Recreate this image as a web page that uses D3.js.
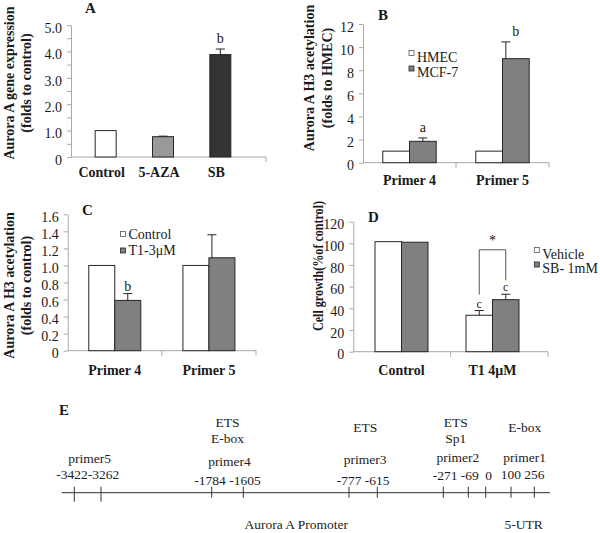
<!DOCTYPE html>
<html><head><meta charset="utf-8">
<script src="https://cdn.jsdelivr.net/npm/d3@7/dist/d3.min.js"></script>
<style>
body{margin:0;background:#fff}
svg, svg text{font-family:"Liberation Serif","Times New Roman",Times,serif}
</style>
</head><body>
<svg id="chart" width="600" height="533" font-family="Liberation Serif, Times New Roman, serif"></svg>
<script>
// ---------------- DATA ----------------
// Panel A
const catA = ["Control", "5-AZA", "SB"];
const valA = [1.0, 0.77, 3.88];
const errA = [0, 0.02, 0.21];
const sigA = ["", "", "b"];
const fillA = ["#ffffff", "#999999", "#333333"];
const ticksA = [0, 0.5, 1, 1.5, 2, 2.5, 3, 3.5, 4, 4.5, 5];

// Panel B
const catB = ["Primer 4", "Primer 5"];
const seriesB = ["HMEC", "MCF-7"];
const hmecB = [1.0, 1.0];
const mcfB = [1.85, 9.0];
const mcfErrB = [0.29, 1.45];
const sigB = ["a", "b"];
const ticksB = [0, 2, 4, 6, 8, 10, 12];

// Panel C
const catC = ["Primer 4", "Primer 5"];
const seriesC = ["Control", "T1-3\u03bcM"];
const ctrlC = [1.0, 1.0];
const t1C = [0.59, 1.09];
const t1ErrC = [0.08, 0.27];
const sigC = ["b", ""];
const ticksC = [0, 0.2, 0.4, 0.6, 0.8, 1.0, 1.2, 1.4, 1.6];

// Panel D
const catD = ["Control", "T1 4\u03bcM"];
const seriesD = ["Vehicle", "SB- 1mM"];
const vehD = [101.5, 33.6];
const vehErrD = [0, 4.4];
const sbD = [101, 48];
const sbErrD = [0, 5];
const sigVehD = ["", "c"];
const sigSbD = ["", "c"];
const bracketTopD = 94;
const ticksD = [0, 20, 40, 60, 80, 100, 120];

// Panel E (promoter map)
const primersE = ["primer5", "primer4", "primer3", "primer2", "primer1"];
const primerStartE = [-3422, -1784, -777, -271, 100];
const primerEndE = [-3262, -1605, -615, -69, 256];
const motifsE = [[], ["ETS", "E-box"], ["ETS"], ["ETS", "Sp1"], ["E-box"]];
const originE = 0;

// ---------------- DRAW ----------------
const SERIF = "Liberation Serif, Times New Roman, serif";
const svg = d3.select("#chart");
const AXC = "#a8a8a8", INK = "#1a1a1a", EDGE = "#262626";

function panel(o) {
  const g = svg.append("g");
  const y = d3.scaleLinear().domain([0, o.yMax]).range([o.y0, o.y1]);
  const x = d3.scaleBand().domain(o.cats).range(o.xr);

  // y axis
  const ga = g.append("g").attr("transform", `translate(${o.ax},0)`)
    .call(d3.axisLeft(y).tickValues(o.yTicks).tickSize(4).tickSizeOuter(0).tickPadding(5).tickFormat(o.fmt));
  ga.attr("font-family", SERIF).attr("font-size", null);
  ga.select(".domain").attr("stroke", AXC);
  ga.selectAll(".tick line").attr("stroke", AXC);
  ga.selectAll(".tick text").attr("font-size", 14).attr("fill", INK).attr("dy", "0.52em");

  // x axis line + category boundary ticks
  g.append("line").attr("x1", o.ax).attr("x2", o.axEnd).attr("y1", o.y0).attr("y2", o.y0).attr("stroke", AXC);
  const n = o.cats.length;
  const tickIdx = o.xTickIdx || d3.range(1, n + 1);
  g.selectAll(".xt").data(tickIdx).enter().append("line")
    .attr("x1", i => o.ax + i * (o.axEnd - o.ax) / n).attr("x2", i => o.ax + i * (o.axEnd - o.ax) / n)
    .attr("y1", o.y0).attr("y2", o.y0 + 5).attr("stroke", AXC);

  // bars
  const ns = o.series.length;
  o.series.forEach((s, k) => {
    o.cats.forEach((c, i) => {
      const cx = x(c) + x.bandwidth() / 2;
      const bx = cx - ns * o.barW / 2 + k * o.barW;
      const v = s.vals[i];
      const fill = Array.isArray(s.fill) ? s.fill[i] : s.fill;
      g.append("rect").attr("x", bx).attr("y", y(v)).attr("width", o.barW).attr("height", y(0) - y(v))
        .attr("fill", fill).attr("stroke", EDGE).attr("stroke-width", 1);
      const e = s.err ? s.err[i] : 0;
      const ex = bx + o.barW / 2 + ((s.errDx && s.errDx[i]) || 0);
      let topY = y(v);
      if (e > 0) {
        topY = y(v + e);
        g.append("line").attr("x1", ex).attr("x2", ex).attr("y1", y(v)).attr("y2", topY).attr("stroke", EDGE);
        g.append("line").attr("x1", ex - 4.5).attr("x2", ex + 4.5).attr("y1", topY).attr("y2", topY).attr("stroke", EDGE);
      }
      const sg = s.sig ? s.sig[i] : "";
      if (sg) {
        g.append("text").attr("x", bx + o.barW / 2).attr("y", topY - (o.sigGap || 5))
          .attr("text-anchor", "middle").attr("font-size", o.sigSize || 14).attr("fill", INK).text(sg);
      }
    });
  });

  // category labels
  g.selectAll(".cl").data(o.cats).enter().append("text")
    .attr("x", c => x(c) + x.bandwidth() / 2 + (o.catDx || 0)).attr("y", o.catY)
    .attr("text-anchor", "middle").attr("font-size", 14).attr("font-weight", "bold").attr("fill", INK).text(c => c);

  // y title
  o.title.forEach((t, i) => {
    const tt = g.append("text").attr("transform", `translate(${o.titleX[i]},${o.titleCY}) rotate(-90)`)
      .attr("text-anchor", "middle").attr("dy", "0.35em").attr("font-size", o.titleSize || 14)
      .attr("font-weight", "bold").attr("fill", INK).text(t);
    if (o.titleLen) tt.attr("textLength", o.titleLen).attr("lengthAdjust", "spacingAndGlyphs");
  });

  // panel letter
  g.append("text").attr("x", o.letterX).attr("y", o.letterY).attr("font-size", 15)
    .attr("font-weight", "bold").attr("fill", INK).text(o.letter);

  // legend
  if (o.legend) {
    o.series.forEach((s, k) => {
      const ly = o.legend.y + k * o.legend.dy;
      g.append("rect").attr("x", o.legend.x).attr("y", ly).attr("width", 5).attr("height", 5)
        .attr("fill", s.fill).attr("stroke", s.fill === "#ffffff" ? "#555" : EDGE).attr("stroke-width", 0.8);
      g.append("text").attr("x", o.legend.x + 8).attr("y", ly + o.legend.textDy).attr("font-size", 14)
        .attr("fill", INK).text(s.name);
    });
  }
  return {x, y, g};
}

const fmt1 = v => v === 0 ? "0" : (Math.abs(v - Math.round(v)) < 1e-9 ? d3.format(".1f")(v) : "");

// Panel A
panel({
  cats: catA, ax: 71, axEnd: 266, xr: [77, 249], y0: 157, y1: 25, yMax: 5,
  yTicks: ticksA, fmt: fmt1, barW: 21, xTickIdx: [3],
  series: [{name: "", vals: valA, err: errA, sig: sigA, fill: fillA}],
  sigGap: 6, catY: 177, catDx: -4,
  title: ["Aurora A gene expression", "(folds to control)"], titleX: [9, 26], titleCY: 83,
  letter: "A", letterX: 85, letterY: 13
});

// Panel B
panel({
  cats: catB, ax: 363, axEnd: 549, xr: [363, 549], y0: 162.7, y1: 24, yMax: 12,
  yTicks: ticksB, fmt: d3.format("d"), barW: 26.7,
  series: [
    {name: seriesB[0], vals: hmecB, fill: "#ffffff"},
    {name: seriesB[1], vals: mcfB, err: mcfErrB, sig: sigB, fill: "#808080", errDx: [0, -10]}
  ],
  sigGap: 6, catY: 185,
  title: ["Aurora A H3 acetylation", "(folds to HMEC)"], titleX: [309, 327], titleCY: 78,
  letter: "B", letterX: 378, letterY: 20,
  legend: {x: 409, y: 50.5, dy: 15.5, textDy: 11}
});

// Panel C
panel({
  cats: catC, ax: 67.7, axEnd: 256, xr: [67.7, 256], y0: 350.7, y1: 214.3, yMax: 1.6,
  yTicks: ticksC, fmt: v => v === 0 ? "0" : d3.format(".1f")(v), barW: 26,
  series: [
    {name: seriesC[0], vals: ctrlC, fill: "#ffffff"},
    {name: seriesC[1], vals: t1C, err: t1ErrC, sig: sigC, fill: "#808080", errDx: [0, -10]}
  ],
  sigGap: 3, catY: 375,
  title: ["Aurora A H3 acetylation", "(folds to control)"], titleX: [9, 26], titleCY: 285.5,
  letter: "C", letterX: 82, letterY: 215,
  legend: {x: 120.5, y: 231.5, dy: 16.5, textDy: 7}
});

// Panel D
const pD = panel({
  cats: catD, ax: 353.3, axEnd: 548, xr: [356, 538], y0: 351.7, y1: 221.6, yMax: 120,
  yTicks: ticksD, fmt: d3.format("d"), barW: 26.5,
  series: [
    {name: seriesD[0], vals: vehD, err: vehErrD, sig: sigVehD, fill: "#ffffff"},
    {name: seriesD[1], vals: sbD, err: sbErrD, sig: sigSbD, fill: "#808080"}
  ],
  sigGap: 3, sigSize: 12, catY: 375,
  title: ["Cell growth(%of control)"], titleX: [318], titleCY: 266, titleSize: 14, titleLen: 130,
  letter: "D", letterX: 368, letterY: 222,
  legend: {x: 534.3, y: 247.5, dy: 14.5, textDy: 11}
});
// significance bracket in D
{
  const c = catD[1];
  const cx = pD.x(c) + pD.x.bandwidth() / 2;
  const bw = 26.5;
  const lx = cx - bw / 2, rx = cx + bw / 2;
  const yL = pD.y(vehD[1] + vehErrD[1]) - 16, yR = pD.y(sbD[1] + sbErrD[1]) - 14, yT = pD.y(bracketTopD);
  pD.g.append("path").attr("d", `M${lx},${yL}V${yT}H${rx}V${yR}`).attr("fill", "none").attr("stroke", "#555");
  pD.g.append("text").attr("x", cx).attr("y", yT - 5).attr("text-anchor", "middle")
    .attr("font-size", 14).attr("fill", "#111111").text("*");
}

// Panel E: promoter schematic
{
  const g = svg.append("g");
  const sites = [].concat(...primerStartE.map((s, i) => [s, primerEndE[i]]), [originE]).sort((a, b) => a - b);
  // schematic (non-proportional) map position scale
  const xE = d3.scaleLinear()
    .domain([-3422, -3262, -1784, -1605, -777, -615, -271, -69, 0, 100, 256])
    .range([74.3, 101, 211.7, 243.3, 349, 377.3, 443.3, 468.3, 485.7, 511, 534.3]);
  const lineY = 492.7;
  g.append("line").attr("x1", 61.7).attr("x2", 550).attr("y1", lineY).attr("y2", lineY)
    .attr("stroke", "#555").attr("stroke-width", 1.2);
  g.selectAll(".t").data(sites).enter().append("line")
    .attr("x1", d => xE(d)).attr("x2", d => xE(d))
    .attr("y1", lineY - 6).attr("y2", d => lineY + (d < -3000 ? 9 : 5))
    .attr("stroke", "#333").attr("stroke-width", 1);

  const numBase = [479, 485, 485, 480, 479];
  const primBase = [463, 466, 464, 462, 462];
  const txt = (x, y, s) => g.append("text").attr("x", x).attr("y", y).attr("text-anchor", "middle")
    .attr("font-size", 13.5).attr("fill", "#222").text(s);
  primersE.forEach((p, i) => {
    const a = primerStartE[i], b = primerEndE[i];
    const mid = (xE(a) + xE(b)) / 2;
    const sep = i === 0 ? "" : " ";
    txt(mid, numBase[i], `${a}${sep}${b}`);
    txt(mid + 2, primBase[i], p);
    const m = motifsE[i];
    if (m.length === 2) { txt(mid, 427, m[0]); txt(mid, 443, m[1]); }
    else if (m.length === 1) { txt(mid + 2, 432, m[0]); }
  });
  txt(xE(originE) + 3, 480, String(originE));
  g.append("text").attr("x", 59).attr("y", 415).attr("font-size", 15).attr("font-weight", "bold")
    .attr("fill", INK).text("E");
  txt((xE(-1605) + xE(-777)) / 2, 529, "Aurora A Promoter");
  txt((xE(100) + xE(256)) / 2 + 1, 529, "5-UTR");
}
</script>
</body></html>
